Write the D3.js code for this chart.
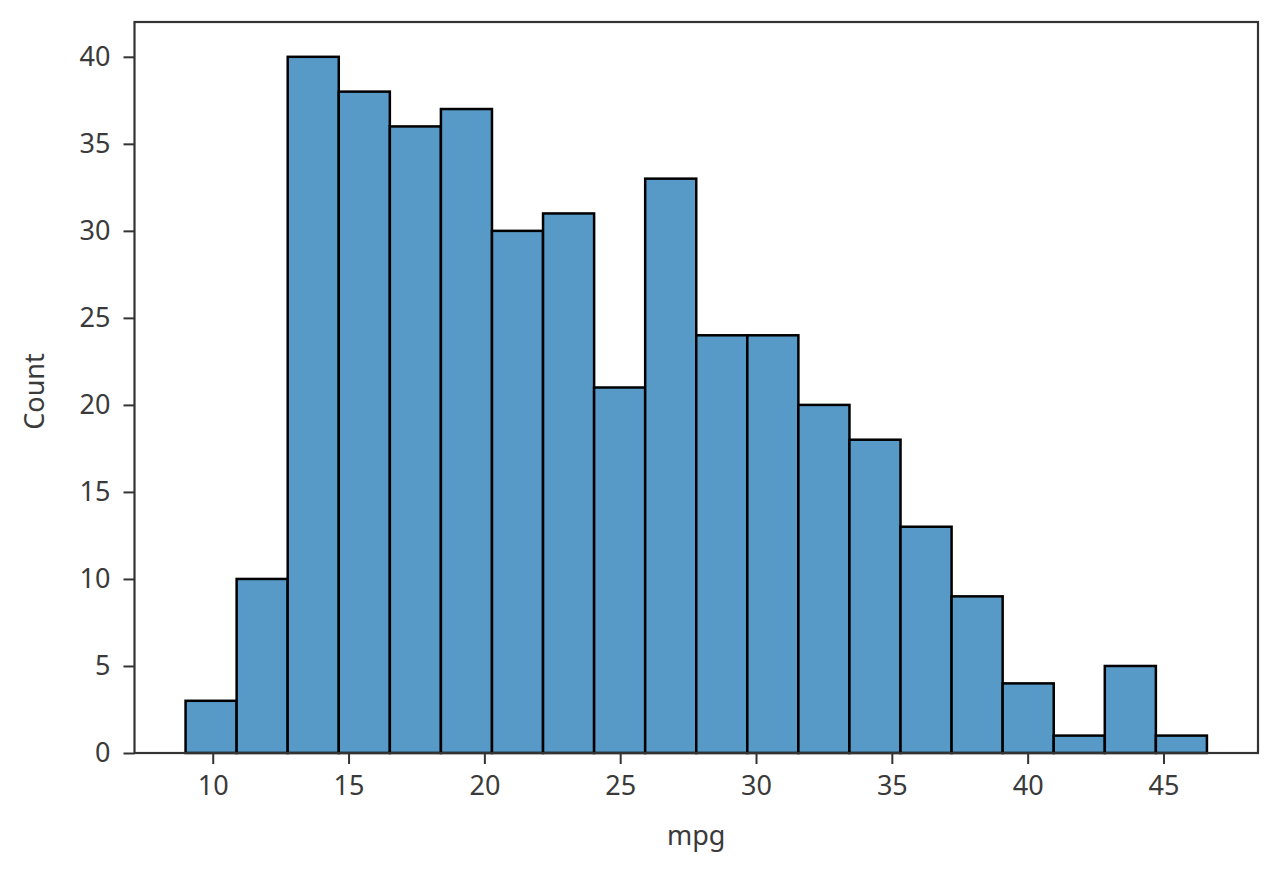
<!DOCTYPE html>
<html><head><meta charset="utf-8">
<script src="https://cdn.jsdelivr.net/npm/d3@7"></script>
<style>body{margin:0;background:#fff}svg{display:block}text{font-family:"Noto Sans",sans-serif;fill:#3a3a3a}</style>
</head><body>
<svg id="c" width="1280" height="873"></svg>
<script>
const binEdges = [9, 10.88, 12.76, 14.64, 16.52, 18.4, 20.28, 22.16, 24.04, 25.92, 27.8, 29.68, 31.56, 33.44, 35.32, 37.2, 39.08, 40.96, 42.84, 44.72, 46.6];
const counts = [3, 10, 40, 38, 36, 37, 30, 31, 21, 33, 24, 24, 20, 18, 13, 9, 4, 1, 5, 1];
const xTicks = [10, 15, 20, 25, 30, 35, 40, 45];
const yTicks = [0, 5, 10, 15, 20, 25, 30, 35, 40];
const xLabel = "mpg", yLabel = "Count";

const L = 134.5, R = 1258, T = 22, B = 753;
const svg = d3.select("#c");
const x = d3.scaleLinear().domain([7.12, 48.48]).range([L, R]);
const y = d3.scaleLinear().domain([0, 42]).range([B, T]);

const bins = counts.map((c, i) => ({x0: binEdges[i], x1: binEdges[i+1], c}));
svg.append("g").selectAll("rect").data(bins).join("rect")
  .attr("x", d => x(d.x0)).attr("width", d => x(d.x1) - x(d.x0))
  .attr("y", d => y(d.c)).attr("height", d => y(0) - y(d.c))
  .attr("fill", "#5799c7").attr("stroke", "#000").attr("stroke-width", 2.5);

const fs = 27;
const xa = svg.append("g").attr("transform", `translate(0,${B})`)
  .call(d3.axisBottom(x).tickValues(xTicks).tickSize(11).tickPadding(12).tickFormat(d3.format("d")));
const ya = svg.append("g").attr("transform", `translate(${L},0)`)
  .call(d3.axisLeft(y).tickValues(yTicks).tickSize(11).tickPadding(13).tickFormat(d3.format("d")));
[xa, ya].forEach(a => {
  a.select(".domain").remove();
  a.selectAll(".tick line").attr("stroke", "#333").attr("stroke-width", 2);
  a.selectAll(".tick text").style("font-size", fs + "px").attr("fill", "#3a3a3a");
});

svg.append("rect").attr("x", L).attr("y", T).attr("width", R - L).attr("height", B - T)
  .attr("fill", "none").attr("stroke", "#333").attr("stroke-width", 2.2);

svg.append("text").attr("x", (L + R) / 2).attr("y", 845).attr("text-anchor", "middle")
  .style("font-size", fs + "px").text(xLabel);
svg.append("text").attr("transform", `translate(44,${(T + B) / 2 + 4}) rotate(-90)`).attr("text-anchor", "middle")
  .style("font-size", fs + "px").text(yLabel);
</script>
</body></html>
